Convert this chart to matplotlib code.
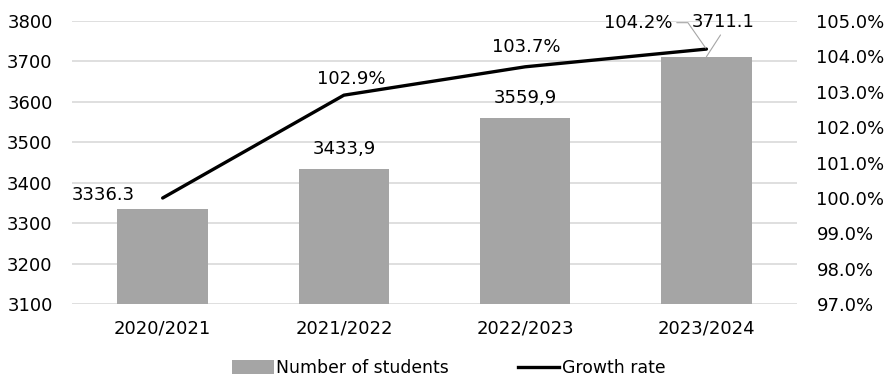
import matplotlib
matplotlib.use("Agg")
import matplotlib.pyplot as plt
from matplotlib.patches import Patch
from matplotlib.lines import Line2D

categories = ["2020/2021", "2021/2022", "2022/2023", "2023/2024"]
students = [3336.3, 3433.9, 3559.9, 3711.1]
student_labels = ["3336.3", "3433,9", "3559,9", "3711.1"]
growth = [100.0, 102.9, 103.7, 104.2]
growth_labels = ["", "102.9%", "103.7%", "104.2%"]
left_ticks = [3100, 3200, 3300, 3400, 3500, 3600, 3700, 3800]
right_ticks = [97.0, 98.0, 99.0, 100.0, 101.0, 102.0, 103.0, 104.0, 105.0]

FS = 13
plt.rcParams['font.family'] = ['DejaVu Sans']
fig = plt.figure(figsize=(8.85, 3.8), dpi=100)
ax = fig.add_axes([0.0814, 0.199, 0.8192, 0.7465])
ax2 = ax.twinx()

x = list(range(len(categories)))
bar_color = "#a5a5a5"
ax.bar(x, students, width=0.5, color=bar_color, zorder=2)
ax.set_ylim(3100, 3800)
ax.set_xlim(-0.5, 3.5)
ax.set_yticks(left_ticks)
ax.set_xticks(x)
ax.set_xticklabels(categories)
ax.grid(axis='y', color="#d9d9d9", linewidth=1.2, zorder=0)
ax.set_axisbelow(True)
for s in ax.spines.values():
    s.set_visible(False)
ax.tick_params(axis='y', length=0, pad=14, labelsize=FS)
ax.tick_params(axis='x', length=0, pad=11, labelsize=FS)

ax2.plot(x, growth, color="black", linewidth=2.4, solid_capstyle='round', zorder=3)
ax2.set_ylim(97.0, 105.0)
ax2.set_yticks(right_ticks)
ax2.set_yticklabels([f"{v:.1f}%" for v in right_ticks])
for s in ax2.spines.values():
    s.set_visible(False)
ax2.tick_params(axis='y', length=0, pad=14, labelsize=FS)

# bar labels
bar_offsets = [(-43, 10), (0, 14.4), (0, 14.4), (12, 25)]
for i, (v, lab) in enumerate(zip(students, student_labels)):
    dx, dy = bar_offsets[i]
    if i == 3:
        ax.annotate(lab, (i, v), xytext=(dx, dy), textcoords='offset points',
                    ha='center', va='center', fontsize=FS,
                    arrowprops=dict(arrowstyle='-', color='#a6a6a6', lw=0.8,
                                    shrinkA=1, shrinkB=0, relpos=(0.5, 0)))
    else:
        ax.annotate(lab, (i, v), xytext=(dx, dy), textcoords='offset points',
                    ha='center', va='center', fontsize=FS)

line_offsets = [(0, 0), (5, 12), (1, 14), (-49, 19)]
for i, (v, lab) in enumerate(zip(growth, growth_labels)):
    if not lab:
        continue
    dx, dy = line_offsets[i]
    if i == 3:
        ax2.annotate(lab, (i, v), xytext=(dx, dy), textcoords='offset points',
                     ha='center', va='center', fontsize=FS,
                     arrowprops=dict(arrowstyle='-', color='#a6a6a6', lw=0.8,
                                     shrinkA=1, shrinkB=1, relpos=(1, 0.5),
                                     connectionstyle='angle,angleA=0,angleB=125,rad=0'))
    else:
        ax2.annotate(lab, (i, v), xytext=(dx, dy), textcoords='offset points',
                     ha='center', va='center', fontsize=FS)

handles = [Patch(facecolor=bar_color, edgecolor='none'),
           Line2D([0], [0], color='black', linewidth=2.4)]
fig.legend(handles, ["Number of students", "Growth rate"], loc='center',
           bbox_to_anchor=(0.507, 1 - 368 / 380), ncol=2, frameon=False, fontsize=12.4,
           handlelength=2.4, handleheight=0.8, handletextpad=0.15, columnspacing=4.0)

fig.savefig("out.png", dpi=100)
